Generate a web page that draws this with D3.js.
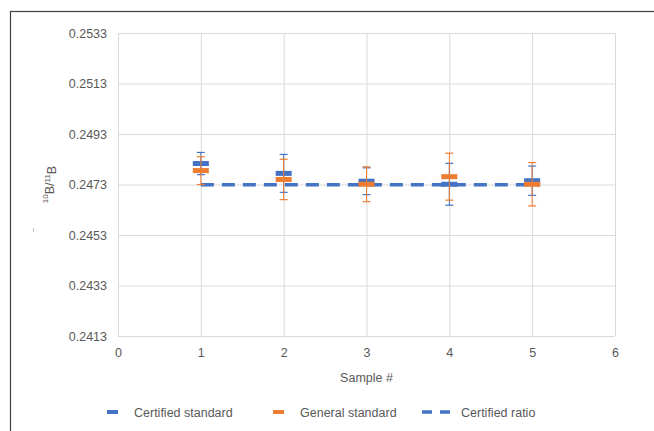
<!DOCTYPE html>
<meta charset="utf-8">
<style>
body { margin: 0; background: #fff; font-family: "Liberation Sans", Arial, sans-serif; }
.tick text { fill: #595959; font-size: 12.5px; }
.grid line { stroke: #d9d9d9; stroke-width: 1; }
.grid path { display: none; }
</style>
<body>
<script src="https://cdn.jsdelivr.net/npm/d3@7"></script>
<script>

var samples = [1, 2, 3, 4, 5];
var certified = [0.24813, 0.24774, 0.24743, 0.24731, 0.24745];
var certifiedErr = [0.00044, 0.00075, 0.00053, 0.00083, 0.00058];
var general = [0.24785, 0.24750, 0.24731, 0.24761, 0.24731];
var generalErr = [0.00055, 0.00080, 0.00069, 0.00093, 0.00086];
var certifiedRatio = 0.24729;
var yTicks = [0.2413, 0.2433, 0.2453, 0.2473, 0.2493, 0.2513, 0.2533];
var xTicks = [0, 1, 2, 3, 4, 5, 6];

var W = 654, H = 431;
var margin = {top: 33, right: 39, bottom: 95, left: 118};
var width = W - margin.left - margin.right,
    height = H - margin.top - margin.bottom;

var blue = "#4472c4", orange = "#ed7d31";

var svg = d3.select("body").append("svg")
    .attr("width", W)
    .attr("height", H);

// outer frame
svg.append("rect")
    .attr("x", 10.5).attr("y", 11.5)
    .attr("width", 660).attr("height", 440)
    .attr("fill", "none").attr("stroke", "#404040").attr("stroke-width", 1.2);

// small stray tick left of the axis title
svg.append("line")
    .attr("x1", 33.5).attr("x2", 33.5).attr("y1", 228).attr("y2", 232)
    .attr("stroke", "#bfbfbf");

var g = svg.append("g")
    .attr("transform", "translate(" + margin.left + "," + margin.top + ")");

var x = d3.scaleLinear().domain([0, 6]).range([0, width]);
var y = d3.scaleLinear().domain([0.2413, 0.2533]).range([height, 0]);

// gridlines
g.append("g")
    .attr("class", "grid")
    .call(d3.axisLeft(y).tickValues(yTicks).tickSize(-width).tickFormat(""));
g.append("g")
    .attr("class", "grid")
    .attr("transform", "translate(0," + height + ")")
    .call(d3.axisBottom(x).tickValues(xTicks).tickSize(-height).tickFormat(""));

// axis labels
var yAxis = g.append("g")
    .call(d3.axisLeft(y).tickValues(yTicks).tickSize(0).tickPadding(11).tickFormat(d3.format(".4f")));
yAxis.select(".domain").remove();
var xAxis = g.append("g")
    .attr("transform", "translate(0," + height + ")")
    .call(d3.axisBottom(x).tickValues(xTicks).tickSize(0).tickPadding(12).tickFormat(d3.format("d")));
xAxis.select(".domain").remove();

// axis titles
g.append("text")
    .attr("x", width / 2).attr("y", height + 46)
    .attr("text-anchor", "middle")
    .attr("fill", "#595959").style("font-size", "12.5px")
    .text("Sample #");

var yt = g.append("text")
    .attr("transform", "translate(" + (-66) + "," + y(0.2473) + ") rotate(-90)")
    .attr("text-anchor", "middle")
    .attr("fill", "#595959").style("font-size", "12.5px");
yt.append("tspan").attr("dy", "-0.45em").style("font-size", "8px").text("10");
yt.append("tspan").attr("dy", "0.45em").text("B/");
yt.append("tspan").attr("dy", "-0.45em").style("font-size", "8px").text("11");
yt.append("tspan").attr("dy", "0.45em").text("B");

// certified ratio line
g.append("line")
    .attr("x1", x(1)).attr("x2", x(5) + 8)
    .attr("y1", y(certifiedRatio)).attr("y2", y(certifiedRatio))
    .attr("stroke", blue).attr("stroke-width", 3.5)
    .attr("stroke-dasharray", "13,8");

function series(vals, errs, color) {
  var s = g.append("g");
  var pts = samples.map(function(d, i) { return {x: d, v: vals[i], e: errs[i]}; });
  s.selectAll(".eb").data(pts).enter().append("line")
      .attr("x1", function(d) { return x(d.x); })
      .attr("x2", function(d) { return x(d.x); })
      .attr("y1", function(d) { return y(d.v + d.e); })
      .attr("y2", function(d) { return y(d.v - d.e); })
      .attr("stroke", color).attr("stroke-width", 1);
  [1, -1].forEach(function(sign) {
    s.selectAll(".cap" + sign).data(pts).enter().append("line")
        .attr("x1", function(d) { return x(d.x) - 4; })
        .attr("x2", function(d) { return x(d.x) + 4; })
        .attr("y1", function(d) { return y(d.v + sign * d.e); })
        .attr("y2", function(d) { return y(d.v + sign * d.e); })
        .attr("stroke", color).attr("stroke-width", 1.2);
  });
  s.selectAll(".mk").data(pts).enter().append("rect")
      .attr("x", function(d) { return x(d.x) - 8; })
      .attr("y", function(d) { return y(d.v) - 2.5; })
      .attr("width", 16).attr("height", 5)
      .attr("fill", color);
}
series(certified, certifiedErr, blue);
series(general, generalErr, orange);

// legend
var leg = svg.append("g").attr("transform", "translate(0,412)");
leg.append("rect").attr("x", 107).attr("y", -2).attr("width", 11).attr("height", 4).attr("fill", blue);
leg.append("text").attr("x", 134).attr("y", 4.5).attr("fill", "#595959").style("font-size", "12.5px").text("Certified standard");
leg.append("rect").attr("x", 273).attr("y", -2).attr("width", 11).attr("height", 4).attr("fill", orange);
leg.append("text").attr("x", 300).attr("y", 4.5).attr("fill", "#595959").style("font-size", "12.5px").text("General standard");
leg.append("line").attr("x1", 422).attr("x2", 451).attr("y1", 0).attr("y2", 0)
    .attr("stroke", blue).attr("stroke-width", 3.5).attr("stroke-dasharray", "10,8");
leg.append("text").attr("x", 461).attr("y", 4.5).attr("fill", "#595959").style("font-size", "12.5px").text("Certified ratio");

</script>
</body>
